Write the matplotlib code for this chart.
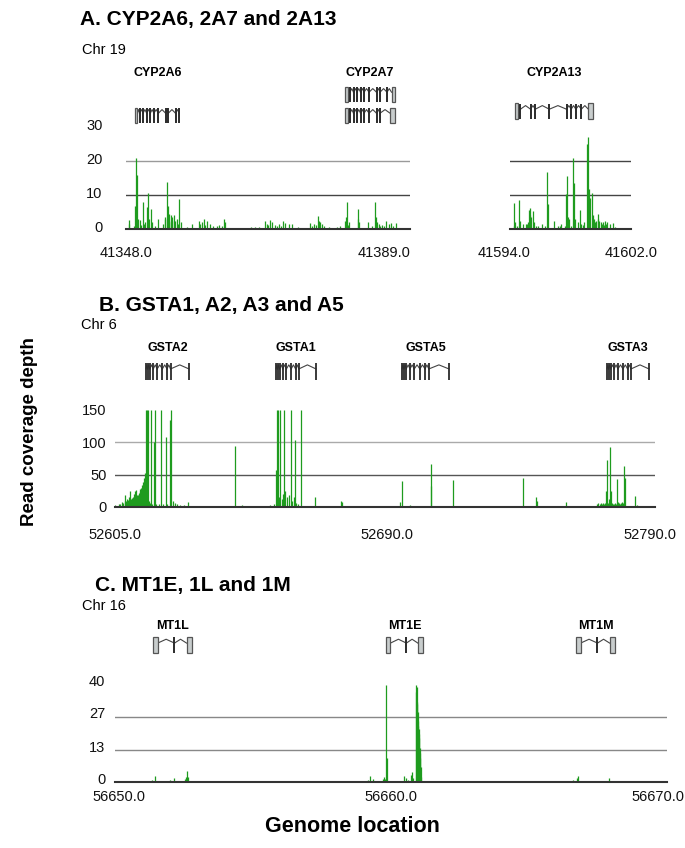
import matplotlib
matplotlib.use('Agg')
import matplotlib.pyplot as plt
import matplotlib.transforms as mtransforms
from matplotlib.patches import Rectangle

plt.rcParams['font.family'] = ['Liberation Sans', 'DejaVu Sans']

# ---------------- data ----------------
# Panel A, left window (CYP2A6 / CYP2A7), chr19 position (kb) and read depth
a1_pos = [41348.38, 41348.5, 41349.2, 41349.34, 41349.49, 41349.63, 41349.8, 41350.07, 41350.2,
          41350.40, 41350.6, 41350.79, 41350.98, 41351.12, 41351.36, 41351.61, 41351.80, 41352.2,
          41352.57, 41353.3, 41353.58, 41353.7, 41353.87, 41354.01, 41354.15, 41354.25, 41354.45,
          41354.55, 41354.64, 41354.88, 41355.0, 41355.12, 41355.36, 41355.5, 41355.69, 41355.89,
          41356.85, 41357.52, 41358.48, 41358.7, 41358.96, 41359.20, 41359.45, 41359.69, 41360.17,
          41360.5, 41361.13, 41361.37, 41361.9, 41362.09, 41362.33, 41366.08, 41366.66, 41367.14,
          41368.01, 41368.34, 41368.5, 41368.73, 41369.07, 41369.45, 41369.8, 41370.03, 41370.4,
          41370.61, 41370.99, 41371.47, 41371.95, 41372.82, 41374.60, 41374.8, 41375.08, 41375.4,
          41375.70, 41375.9, 41376.04, 41376.28, 41376.6, 41377.24, 41378.44, 41378.93, 41379.65,
          41379.75, 41379.89, 41380.0, 41380.13, 41381.43, 41381.55, 41381.67, 41382.87, 41383.5,
          41383.98, 41384.05, 41384.22, 41384.46, 41384.6, 41384.94, 41385.2, 41385.56, 41385.90,
          41386.29, 41386.5, 41387.01]
a1_depth = [2.6, 1.5, 1.0, 6.8, 21.0, 15.9, 3.0, 2.6, 1.2,
            7.8, 1.5, 2.0, 6.6, 10.7, 3.0, 5.8, 2.0, 1.0,
            2.8, 1.5, 3.5, 3.0, 13.8, 6.8, 2.5, 4.5, 4.0,
            2.0, 3.5, 4.2, 2.5, 2.5, 3.0, 1.5, 8.7, 2.0,
            0.5, 1.5, 2.5, 1.5, 2.2, 3.0, 1.2, 2.5, 1.5,
            0.8, 1.0, 1.2, 0.8, 2.8, 2.0, 0.5, 0.5, 0.5,
            2.3, 1.5, 1.2, 2.6, 2.0, 1.2, 1.0, 1.5, 1.0,
            2.5, 1.8, 1.5, 1.5, 0.5, 1.8, 1.0, 1.5, 1.2,
            3.8, 2.5, 2.0, 1.5, 0.8, 0.5, 0.5, 1.0, 2.5,
            3.5, 7.8, 1.2, 2.0, 5.9, 3.0, 2.0, 2.0, 1.0,
            7.8, 3.5, 2.0, 1.5, 0.8, 1.2, 1.0, 2.5, 1.5,
            1.8, 1.0, 1.8]

# Panel A, right window (CYP2A13)
a2_pos = [41594.24, 41594.28, 41594.33, 41594.45, 41594.57, 41594.64, 41594.88, 41595.04, 41595.10,
          41595.2, 41595.26, 41595.3, 41595.35, 41595.41, 41595.50, 41595.61, 41595.7, 41595.83,
          41596.14, 41596.3, 41596.45, 41596.51, 41596.93, 41597.15, 41597.3, 41597.37, 41597.64,
          41597.70, 41597.75, 41597.81, 41597.92, 41598.0, 41598.14, 41598.21, 41598.28, 41598.47,
          41598.61, 41598.70, 41598.85, 41598.92, 41599.11, 41599.18, 41599.22, 41599.31, 41599.40,
          41599.49, 41599.55, 41599.62, 41599.7, 41599.80, 41599.85, 41599.91, 41600.02, 41600.05,
          41600.13, 41600.2, 41600.28, 41600.35, 41600.44, 41600.61, 41600.81, 41600.94]
a2_depth = [7.7, 1.0, 2.0, 1.0, 8.5, 2.5, 1.5, 1.5, 1.5,
            2.0, 5.6, 4.0, 6.3, 3.5, 5.3, 2.0, 1.0, 1.0,
            1.5, 1.0, 16.9, 7.5, 2.3, 1.0, 0.8, 1.5, 1.0,
            10.4, 15.7, 3.5, 3.0, 1.0, 21.0, 13.6, 3.0, 2.0,
            5.5, 1.5, 1.2, 2.0, 24.9, 27.1, 11.7, 9.2, 10.6,
            4.0, 3.0, 2.0, 2.5, 4.5, 3.0, 2.5, 2.0, 1.5,
            2.0, 1.2, 2.5, 1.5, 2.0, 1.5, 1.8, 0.5]

# Panel B (GSTA cluster), chr6
b_pos = [52605.11, 52605.5, 52606.25, 52606.8, 52607.40, 52607.9, 52608.31, 52608.54, 52608.9,
         52609.11, 52609.4, 52609.68, 52610.0, 52610.25, 52610.5, 52610.82, 52611.1, 52611.39,
         52611.6, 52611.74, 52611.95, 52612.19, 52612.4, 52612.65, 52612.9, 52613.11, 52613.3,
         52613.45, 52613.6, 52613.79, 52613.95, 52614.13, 52614.3, 52614.48, 52614.65, 52614.82,
         52615.0, 52615.16, 52615.25, 52615.39, 52615.5, 52615.73, 52615.96, 52616.19, 52616.53,
         52616.87, 52617.22, 52617.67, 52618.25, 52618.59, 52619.16, 52619.96, 52620.87, 52621.33,
         52622.36, 52622.81, 52623.84, 52624.07, 52624.75, 52625.44, 52626.24, 52627.38, 52628.52,
         52630.01, 52631.38, 52646.00, 52648.51, 52658.22, 52659.36, 52660.16, 52660.38, 52660.84,
         52661.30, 52661.64, 52662.21, 52662.55, 52663.01, 52663.35, 52663.92, 52664.50, 52665.30,
         52665.75, 52666.21, 52666.55, 52667.01, 52667.69, 52668.61, 52669.63, 52673.40, 52677.06,
         52682.54, 52682.77, 52686.19, 52699.21, 52702.75, 52703.44, 52706.07, 52713.15, 52713.26,
         52720.80, 52721.71, 52744.89, 52749.12, 52749.46, 52756.66, 52759.62, 52770.2, 52770.6,
         52771.0, 52771.4, 52771.8, 52772.2, 52772.6, 52773.0, 52773.33, 52773.67, 52773.9,
         52774.24, 52774.4, 52774.70, 52775.04, 52775.3, 52775.61, 52775.9, 52776.3, 52776.7,
         52777.10, 52777.4, 52777.78, 52778.0, 52778.3, 52778.58, 52778.9, 52779.2, 52779.50,
         52779.84, 52783.27, 52783.72]
b_depth = [3, 2, 5, 4, 8, 6, 10, 18, 9,
           12, 11, 15, 13, 24, 12, 14, 16, 20,
           15, 25, 20, 26, 17, 18, 19, 22, 20,
           28, 24, 30, 26, 34, 30, 38, 32, 45,
           36, 52, 42, 40, 30, 150, 150, 150, 10,
           6, 150, 5, 100, 150, 5, 4, 150, 5,
           109, 4, 135, 150, 10, 6, 5, 3, 3,
           7, 2, 94, 3, 3, 4, 57, 150, 150,
           15, 150, 12, 20, 150, 25, 15, 18, 150,
           10, 15, 104, 6, 4, 150, 2, 15.5, 1,
           10, 8, 1, 1, 8, 40, 3, 32, 66,
           42, 1, 45, 15, 10, 2, 7, 5, 6,
           5, 6, 5, 6, 5, 6, 25, 72, 6,
           12, 5, 93, 25, 6, 5, 5, 6, 5,
           43, 7, 6, 5, 6, 8, 5, 6, 63,
           45, 17, 3]

# Panel C (MT1 cluster), chr16
c_pos = [56651.34, 56651.46, 56652.00, 56652.14, 56652.55, 56652.58, 56652.62, 56652.66, 56653.70,
         56654.30, 56654.36, 56655.75, 56657.08, 56658.22, 56658.34, 56658.53, 56658.65, 56658.89,
         56659.07, 56659.17, 56659.25, 56659.34, 56659.43, 56659.55, 56659.70, 56659.74, 56659.79,
         56659.83, 56659.87, 56660.02, 56660.14, 56660.27, 56660.36, 56660.48, 56660.54, 56660.63,
         56660.72, 56660.76, 56660.81, 56660.905, 56660.917, 56660.929, 56660.941, 56660.953,
         56660.965, 56660.977, 56660.989, 56661.001, 56661.014, 56661.026, 56661.038, 56661.050,
         56661.062, 56661.074, 56661.086, 56662.11, 56666.42, 56666.48, 56666.58, 56666.75,
         56666.79, 56667.43, 56667.57, 56667.91]
c_depth = [0.7, 2.5, 0.7, 1.8, 1.3, 2.0, 4.5, 2.0, 0.5,
           0.6, 0.6, 0.5, 0.5, 0.5, 0.4, 0.5, 0.5, 0.5,
           0.6, 0.8, 2.4, 1.2, 0.5, 0.5, 1.4, 2.2, 1.2,
           40.0, 10.0, 0.5, 0.5, 0.5, 0.5, 2.4, 1.5, 0.7,
           2.8, 4.2, 1.5, 37, 40, 39, 33, 32,
           29, 25, 23, 22, 20, 18, 14, 12,
           10, 6, 2, 0.5, 0.5, 0.5, 0.8, 1.5,
           2.4, 0.5, 0.5, 1.5]

# gene names and genomic spans
a1_genes = ['CYP2A6', 'CYP2A7']
a1_gene_span = [(41349.30, 41355.80), (41379.62, 41386.84)]
a2_genes = ['CYP2A13']
a2_gene_span = [(41594.33, 41599.49)]
b_genes = ['GSTA2', 'GSTA1', 'GSTA5', 'GSTA3']
b_gene_span = [(52615.62, 52630.35), (52660.16, 52673.86), (52703.33, 52719.43), (52773.56, 52787.95)]
c_genes = ['MT1L', 'MT1E', 'MT1M']
c_gene_span = [(56651.38, 56652.79), (56659.82, 56661.16), (56666.70, 56668.12)]

# ---------------- figure ----------------
W, H = 685, 848
fig = plt.figure(figsize=(W / 100, H / 100), dpi=100)
GREEN = '#1e9b1e'


def add_ax(left, right, top, bottom):
    return fig.add_axes([left / W, 1 - bottom / H, (right - left) / W, (bottom - top) / H])


def shift(lbl, dx_px, dy_px):
    lbl.set_transform(lbl.get_transform() +
                      mtransforms.ScaledTranslation(dx_px / 100, dy_px / 100, fig.dpi_scale_trans))


def style(ax, xlim, ylim, grid, grid_cols, yticks, ylabels, xticks, xlabels, xpad, ypad):
    ax.set_xlim(*xlim)
    ax.set_ylim(*ylim)
    for s in ['left', 'right', 'top']:
        ax.spines[s].set_visible(False)
    ax.spines['bottom'].set_color('#333333')
    ax.spines['bottom'].set_linewidth(1.5)
    ax.spines['bottom'].set_zorder(5)
    for g, c in zip(grid, grid_cols):
        ax.axhline(g, color=c, lw=1.0, zorder=0)
    ax.set_yticks(yticks)
    ax.set_yticklabels(ylabels)
    ax.set_xticks(xticks)
    ax.set_xticklabels(xlabels)
    ax.tick_params(length=0, labelsize=10.5, colors='#111111')
    ax.tick_params(axis='x', pad=xpad)
    ax.tick_params(axis='y', pad=ypad)
    ax.patch.set_alpha(0)


def text_px(x, y, s, **kw):
    fig.text(x / W, 1 - y / H, s, **kw)


# gene structure templates: (fraction, width fraction); width 0 = thin exon bar
CYP6_T = [(0.0, 0.05), (0.1, 0), (0.18, 0), (0.26, 0), (0.34, 0), (0.42, 0), (0.52, 0),
          (0.68, 0), (0.74, 0), (0.9, 0), (0.98, 0)]
CYP7_T1 = [(0.0, 0.05), (0.1, 0), (0.17, 0), (0.24, 0), (0.31, 0), (0.38, 0), (0.48, 0),
           (0.63, 0), (0.7, 0), (0.84, 0), (0.93, 0.07)]
CYP7_T2 = [(0.0, 0.05), (0.1, 0), (0.17, 0), (0.24, 0), (0.31, 0), (0.38, 0), (0.48, 0),
           (0.63, 0), (0.7, 0), (0.9, 0.1)]
CYP13_T = [(0.0, 0.04), (0.07, 0), (0.2, 0), (0.26, 0), (0.44, 0), (0.66, 0), (0.72, 0),
           (0.78, 0), (0.85, 0), (0.94, 0.06)]
GST_T = [(0.0, 0), (0.04, 0), (0.09, 0), (0.17, 0), (0.26, 0), (0.38, 0), (0.49, 0),
         (0.57, 0), (1.0, 0)]
MT_T = [(0.0, 0.12), (0.55, 0), (0.86, 0.14)]


def draw_gene(ax, span, yc, parts, h=15, lw=1.4):
    tr = mtransforms.blended_transform_factory(ax.transData, fig.transFigure)
    s, e = span
    L = e - s
    hf = h / H
    ycf = 1 - yc / H
    edges = []
    for f, w in parts:
        x = s + f * L
        if w > 0:
            ax.add_patch(Rectangle((x, ycf - hf / 2), w * L, hf, transform=tr,
                                   facecolor='#c8cdcd', edgecolor='#555555', lw=0.9,
                                   clip_on=False, zorder=6))
            edges.append((x, x + w * L))
        else:
            ax.plot([x, x], [ycf - hf / 2, ycf + hf / 2], transform=tr, color='#2b2b2b',
                    lw=lw, clip_on=False, solid_capstyle='butt', zorder=6)
            edges.append((x, x))
    for (a0, a1), (b0, b1) in zip(edges[:-1], edges[1:]):
        xm = (a1 + b0) / 2
        ax.plot([a1, xm, b0], [ycf + 0.12 * hf, ycf + 0.36 * hf, ycf + 0.12 * hf],
                transform=tr, color='#444444', lw=0.8, clip_on=False, zorder=5)


def gene_label(ax, span, y, name):
    tr = mtransforms.blended_transform_factory(ax.transData, fig.transFigure)
    ax.text((span[0] + span[1]) / 2, 1 - y / H, name, transform=tr, ha='center', va='center',
            fontsize=9, fontweight='bold', clip_on=False)


TITLE_FS = 15

# ---- Panel A ----
text_px(80, 19, 'A. CYP2A6, 2A7 and 2A13', fontsize=TITLE_FS, fontweight='bold', va='center')
text_px(82, 50, 'Chr 19', fontsize=10.5, va='center')

axA1 = add_ax(126, 410, 127, 229)
axA1.vlines(a1_pos, 0, a1_depth, color=GREEN, lw=0.9)
style(axA1, (41348.0, 41389.0), (0, 30), [10, 20], ['#444444', '#9a9a9a'],
      [0, 10, 20, 30], ['0', '10', '20', '30'], [41348.0, 41389.0], ['41348.0', '41389.0'], 12, 17)
axA1.get_xticklabels()[1].set_horizontalalignment('right')
for lbl in axA1.get_yticklabels():
    shift(lbl, 0, 2)

axA2 = add_ax(510, 631, 127, 229)
axA2.vlines(a2_pos, 0, a2_depth, color=GREEN, lw=0.9)
style(axA2, (41594.0, 41602.0), (0, 30), [10, 20], ['#444444', '#444444'],
      [], [], [41594.0, 41602.0], ['41594.0', '41602.0'], 12, 17)
shift(axA2.get_xticklabels()[0], -6, 0)

gene_label(axA1, a1_gene_span[0], 73, a1_genes[0])
gene_label(axA1, a1_gene_span[1], 73, a1_genes[1])
gene_label(axA2, a2_gene_span[0], 73, a2_genes[0])
draw_gene(axA1, a1_gene_span[0], 115, CYP6_T)
draw_gene(axA1, a1_gene_span[1], 94, CYP7_T1)
draw_gene(axA1, a1_gene_span[1], 115, CYP7_T2)
draw_gene(axA2, a2_gene_span[0], 111, CYP13_T)

# ---- Panel B ----
text_px(99, 306, 'B. GSTA1, A2, A3 and A5', fontsize=TITLE_FS, fontweight='bold', va='center')
text_px(81, 325, 'Chr 6', fontsize=10.5, va='center')

axB = add_ax(115, 655, 410, 507)
axB.vlines(b_pos, 0, b_depth, color=GREEN, lw=0.9)
style(axB, (52605.0, 52790.0), (0, 150), [50, 100], ['#555555', '#aaaaaa'],
      [0, 50, 100, 150], ['0', '50', '100', '150'], [52605.0, 52690.0, 52790.0],
      ['52605.0', '52690.0', '52790.0'], 15, 6)
shift(axB.get_xticklabels()[1], 24, 0)
shift(axB.get_xticklabels()[2], -5, 0)
for i, g in enumerate(b_genes):
    gene_label(axB, b_gene_span[i], 348, g)
    draw_gene(axB, b_gene_span[i], 371, GST_T, h=17, lw=1.3)

# ---- Panel C ----
text_px(95, 585, 'C. MT1E, 1L and 1M', fontsize=TITLE_FS, fontweight='bold', va='center')
text_px(82, 606, 'Chr 16', fontsize=10.5, va='center')

axC = add_ax(115, 667, 685, 782)
axC.vlines(c_pos, 0, c_depth, color=GREEN, lw=0.9)
style(axC, (56650.0, 56670.0), (0, 40), [13, 27], ['#888888', '#888888'],
      [0, 13, 27, 40], ['0', '13', '27', '40'], [56650.0, 56660.0, 56670.0],
      ['56650.0', '56660.0', '56670.0'], 6, 7)
for lbl in axC.get_yticklabels():
    shift(lbl, 0, 4)
shift(axC.get_xticklabels()[0], 4, 0)
shift(axC.get_xticklabels()[2], -9, 0)
for i, g in enumerate(c_genes):
    gene_label(axC, c_gene_span[i], 626, g)
    draw_gene(axC, c_gene_span[i], 645, MT_T, h=16)

# ---- axis titles ----
text_px(30, 432, 'Read coverage depth', fontsize=13.5, fontweight='bold', rotation=90,
        ha='center', va='center')
text_px(352, 826, 'Genome location', fontsize=15.5, fontweight='bold', ha='center', va='center')

fig.savefig('out.png', dpi=100)
